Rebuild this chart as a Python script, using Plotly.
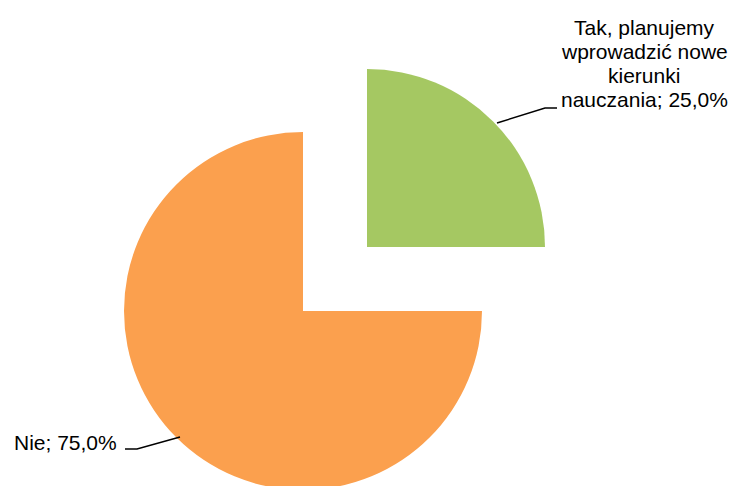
import plotly.graph_objects as go

# ---- data ----
labels = ["Tak, planujemy wprowadzić nowe kierunki nauczania", "Nie"]
values = [25.0, 75.0]
label_lines_tak = ["Tak, planujemy", "wprowadzić nowe", "kierunki", "nauczania; 25,0%"]
label_nie = "Nie; 75,0%"

# ---- styling / layout ----
W, H = 736, 494   # slightly taller than the 486 window; bottom of orange slice gets cropped as in the reference
green = "#A5C862"
orange = "#FBA04E"
FONT = "Liberation Sans, Arial, sans-serif"
FS = 21

def px(x):
    return x / W

def py(y):
    return 1 - y / H

def domain(cx, cy, r):
    return dict(x=[px(cx - r), px(cx + r)], y=[py(cy + r), py(cy - r)])

fig = go.Figure()
# exploded slices: each trace shows one slice of the same pie
fig.add_trace(go.Pie(
    labels=labels, values=values, sort=False, direction="clockwise", rotation=0,
    marker=dict(colors=[green, "rgba(0,0,0,0)"], line=dict(width=0)),
    textinfo="none", domain=domain(367, 247, 178), showlegend=False,
    hovertemplate="%{label}: %{percent}<extra></extra>",
))
fig.add_trace(go.Pie(
    labels=labels, values=values, sort=False, direction="clockwise", rotation=0,
    marker=dict(colors=["rgba(0,0,0,0)", orange], line=dict(width=0)),
    textinfo="none", domain=domain(303, 311, 179), showlegend=False,
    hovertemplate="%{label}: %{percent}<extra></extra>",
))

annotations = []
line_y = [27, 51, 75, 99]
for t, y in zip(label_lines_tak, line_y):
    annotations.append(dict(
        x=px(644), y=py(y), xref="paper", yref="paper", text=t, showarrow=False,
        xanchor="center", yanchor="middle", font=dict(family=FONT, size=FS, color="#000000"),
    ))
annotations.append(dict(
    x=px(119), y=py(442), xref="paper", yref="paper", text=label_nie, showarrow=False,
    xanchor="right", yanchor="middle", font=dict(family=FONT, size=FS, color="#000000"),
))

shapes = [
    dict(type="path", xref="paper", yref="paper",
         path=f"M {px(497)} {py(123)} L {px(545)} {py(108)} L {px(557)} {py(108)}",
         line=dict(color="#000000", width=1.5)),
    dict(type="path", xref="paper", yref="paper",
         path=f"M {px(180)} {py(437)} L {px(137)} {py(449)} L {px(125)} {py(449)}",
         line=dict(color="#000000", width=1.5)),
]

fig.update_layout(
    width=W, height=H, margin=dict(l=0, r=0, t=0, b=0),
    paper_bgcolor="#FFFFFF", plot_bgcolor="#FFFFFF",
    annotations=annotations, shapes=shapes, showlegend=False,
)

fig.write_html(
    "out.html",
    config={"displayModeBar": False},
    post_script="document.body.style.margin='0';document.body.style.overflow='hidden';",
)
